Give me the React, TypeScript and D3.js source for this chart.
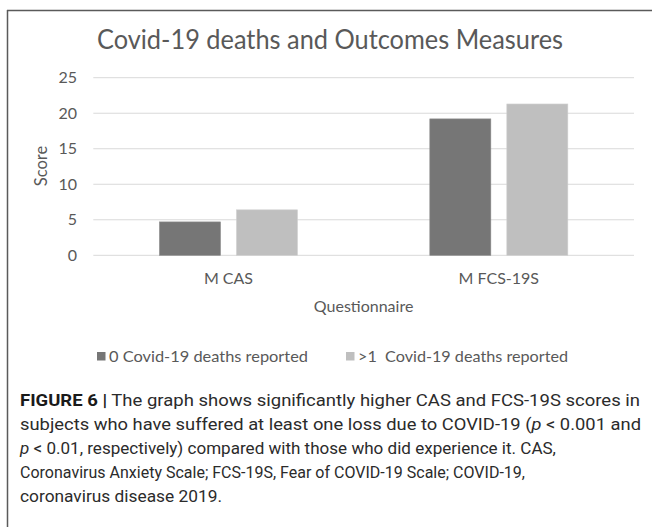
import React from "react";
import * as d3 from "d3";

const categories = ["M CAS", "M FCS-19S"];
const seriesNames = ["0 Covid-19 deaths reported", ">1  Covid-19 deaths reported"];
const series0 = [4.7, 19.2];
const series1 = [6.4, 21.3];
const yTicks = [0, 5, 10, 15, 20, 25];
const colors = ["#767676", "#bfbfbf"];

const W = 652;
const H = 527;
const chartFont = "Lato, 'Open Sans', sans-serif";
const capFont = "Roboto, 'Liberation Sans', Arial, sans-serif";
const textColor = "#595959";

export default function App() {
  const x = d3.scaleBand<string>().domain(categories).range([93.3, 634]).padding(0);
  const groupW = 138;
  const xi = d3.scaleBand<string>().domain(["s0", "s1"]).range([0, groupW]).paddingInner(16 / 77).paddingOuter(0);
  const y = d3.scaleLinear().domain([0, 25]).range([255.3, 77.7]);
  const values = [series0, series1];
  const keys = ["s0", "s1"];

  return (
    <svg width={W} height={H} style={{ position: "absolute", left: 0, top: 0 }}>
      <rect x={0} y={0} width={W} height={H} fill="#fff" />
      <line x1={7.5} x2={7.5} y1={10} y2={H} stroke="#5a5a5a" strokeWidth={1.5} />
      <line x1={7} x2={W} y1={10.5} y2={10.5} stroke="#5a5a5a" strokeWidth={1.5} />

      <text x={330} y={49} textAnchor="middle" fontFamily={chartFont} fontSize={26} fill={textColor} textLength={466} lengthAdjust="spacingAndGlyphs">
        Covid-19 deaths and Outcomes Measures
      </text>

      {yTicks.map((t) => (
        <g key={t}>
          <line x1={93.3} x2={634} y1={y(t)} y2={y(t)} stroke="#d9d9d9" strokeWidth={1} />
          <text x={77} y={y(t) + 5.5} textAnchor="end" fontFamily={chartFont} fontSize={16} fill={textColor}>
            {t}
          </text>
        </g>
      ))}

      {categories.map((c, ci) => {
        const gx = (x(c) as number) + (x.bandwidth() - groupW) / 2;
        return (
          <g key={c}>
            {keys.map((k, si) => (
              <rect
                key={k}
                x={gx + (xi(k) as number)}
                y={y(values[si][ci])}
                width={xi.bandwidth()}
                height={y(0) - y(values[si][ci])}
                fill={colors[si]}
                stroke={si === 0 ? "#8a8a8a" : "#cfcfcf"}
                strokeWidth={0.6}
              />
            ))}
            <text x={(x(c) as number) + x.bandwidth() / 2} y={284} textAnchor="middle" fontFamily={chartFont} fontSize={16} fill={textColor}>
              {c}
            </text>
          </g>
        );
      })}

      <text transform="translate(47,166) rotate(-90)" textAnchor="middle" fontFamily={chartFont} fontSize={16.5} fill={textColor}>
        Score
      </text>
      <text x={363.6} y={312} textAnchor="middle" fontFamily={chartFont} fontSize={16} fill={textColor}>
        Questionnaire
      </text>

      {seriesNames.map((s, i) => {
        const lx = i === 0 ? 97 : 346;
        return (
          <g key={s}>
            <rect x={lx} y={352} width={8.5} height={8.5} fill={colors[i]} />
            <text x={lx + 12} y={362} fontFamily={chartFont} fontSize={16} fill={textColor} style={{ whiteSpace: "pre" }} textLength={i === 0 ? 199 : 210} lengthAdjust="spacingAndGlyphs">
              {s}
            </text>
          </g>
        );
      })}

      <g fontFamily={capFont} fontSize={17} fill="#2b2b2b">
        <text x={20} y={406} textLength={620} lengthAdjust="spacingAndGlyphs">
          <tspan fontWeight="bold" fill="#1a1a1a">FIGURE 6 |</tspan>
          <tspan> The graph shows significantly higher CAS and FCS-19S scores in</tspan>
        </text>
        <text x={20} y={430} textLength={621} lengthAdjust="spacingAndGlyphs">
          subjects who have suffered at least one loss due to COVID-19 (<tspan fontStyle="italic">p</tspan> &lt; 0.001 and
        </text>
        <text x={20} y={454} textLength={536} lengthAdjust="spacingAndGlyphs">
          <tspan fontStyle="italic">p</tspan> &lt; 0.01, respectively) compared with those who did experience it. CAS,
        </text>
        <text x={20} y={478} textLength={505} lengthAdjust="spacingAndGlyphs">
          Coronavirus Anxiety Scale; FCS-19S, Fear of COVID-19 Scale; COVID-19,
        </text>
        <text x={20} y={502} textLength={202} lengthAdjust="spacingAndGlyphs">
          coronavirus disease 2019.
        </text>
      </g>
    </svg>
  );
}
